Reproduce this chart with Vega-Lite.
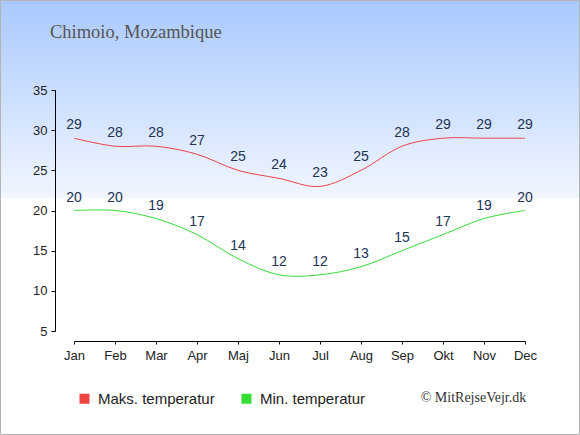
{
  "$schema": "https://vega.github.io/schema/vega-lite/v6.json",
  "width": 451,
  "height": 241,
  "autosize": "none",
  "padding": {"left": 74, "top": 90, "right": 55, "bottom": 104},
  "background": "white",
  "config": {
    "view": {"stroke": null},
    "axis": {"grid": false, "labelFlush": false, "domainColor": "#000", "tickColor": "#000", "labelColor": "#222", "labelFont": "Liberation Sans", "labelFontSize": 13, "title": null}
  },
  "data": {
    "values": [
      {"m": 1, "series": "Maks. temperatur", "t": 29},
      {"m": 2, "series": "Maks. temperatur", "t": 28},
      {"m": 3, "series": "Maks. temperatur", "t": 28},
      {"m": 4, "series": "Maks. temperatur", "t": 27},
      {"m": 5, "series": "Maks. temperatur", "t": 25},
      {"m": 6, "series": "Maks. temperatur", "t": 24},
      {"m": 7, "series": "Maks. temperatur", "t": 23},
      {"m": 8, "series": "Maks. temperatur", "t": 25},
      {"m": 9, "series": "Maks. temperatur", "t": 28},
      {"m": 10, "series": "Maks. temperatur", "t": 29},
      {"m": 11, "series": "Maks. temperatur", "t": 29},
      {"m": 12, "series": "Maks. temperatur", "t": 29},
      {"m": 1, "series": "Min. temperatur", "t": 20},
      {"m": 2, "series": "Min. temperatur", "t": 20},
      {"m": 3, "series": "Min. temperatur", "t": 19},
      {"m": 4, "series": "Min. temperatur", "t": 17},
      {"m": 5, "series": "Min. temperatur", "t": 14},
      {"m": 6, "series": "Min. temperatur", "t": 12},
      {"m": 7, "series": "Min. temperatur", "t": 12},
      {"m": 8, "series": "Min. temperatur", "t": 13},
      {"m": 9, "series": "Min. temperatur", "t": 15},
      {"m": 10, "series": "Min. temperatur", "t": 17},
      {"m": 11, "series": "Min. temperatur", "t": 19},
      {"m": 12, "series": "Min. temperatur", "t": 20}
    ]
  },
  "layer": [
    {
      "data": {"values": [{}]},
      "mark": {"type": "rect", "fill": {"gradient": "linear", "x1": 0, "y1": 0, "x2": 0, "y2": 1, "stops": [{"offset": 0, "color": "#a9c9ff"}, {"offset": 1, "color": "#f1f6ff"}]}},
      "encoding": {
        "x": {"datum": -0.805, "type": "quantitative", "scale": {"domain": [1, 12]}},
        "x2": {"datum": 13.341},
        "y": {"datum": 46.203, "type": "quantitative", "scale": {"domain": [5, 35]}},
        "y2": {"datum": 21.56}
      }
    },
    {
      "data": {"values": [{}]},
      "mark": {"type": "rect", "fill": null, "stroke": "#b4b4b4", "strokeWidth": 1},
      "encoding": {
        "x": {"datum": -0.793, "type": "quantitative", "scale": {"domain": [1, 12]}},
        "x2": {"datum": 13.329},
        "y": {"datum": 46.141, "type": "quantitative", "scale": {"domain": [5, 35]}},
        "y2": {"datum": -7.884}
      }
    },
    {
      "data": {"values": [{"label": "Chimoio, Mozambique"}]},
      "mark": {"type": "text", "align": "left", "baseline": "alphabetic", "font": "Liberation Serif", "fontSize": 18.5, "color": "#555"},
      "encoding": {
        "x": {"datum": 0.4146, "type": "quantitative", "scale": {"domain": [1, 12]}},
        "y": {"datum": 41.47, "type": "quantitative", "scale": {"domain": [5, 35]}},
        "text": {"field": "label"}
      }
    },
    {
      "mark": {"type": "line", "interpolate": "cardinal", "strokeWidth": 1},
      "encoding": {
        "x": {
          "field": "m", "type": "quantitative",
          "scale": {"domain": [1, 12], "nice": false},
          "axis": {"zindex": 2, "values": [1, 2, 3, 4, 5, 6, 7, 8, 9, 10, 11, 12], "offset": 10, "tickSize": 3, "labelPadding": 5,
            "labelExpr": "['Jan','Feb','Mar','Apr','Maj','Jun','Jul','Aug','Sep','Okt','Nov','Dec'][datum.value-1]"}
        },
        "y": {
          "field": "t", "type": "quantitative",
          "scale": {"domain": [5, 35], "nice": false, "zero": false},
          "axis": {"zindex": 2, "values": [5, 10, 15, 20, 25, 30, 35], "offset": 19, "tickSize": 4, "labelPadding": 4}
        },
        "color": {
          "field": "series", "type": "nominal",
          "scale": {"domain": ["Maks. temperatur", "Min. temperatur"], "range": ["#ee4444", "#33dd33"]},
          "legend": {
            "title": null, "orient": "none", "direction": "horizontal", "legendX": 3, "legendY": 301,
            "symbolType": "square", "symbolSize": 100, "symbolStrokeWidth": 0, "symbolOpacity": 1,
            "labelFont": "Liberation Sans", "labelFontSize": 15, "labelColor": "#222", "labelOffset": 6, "columnPadding": 24,
            "encode": {"symbols": {"update": {"fill": {"scale": "color", "field": "value"}}}}
          }
        }
      }
    },
    {
      "mark": {"type": "text", "dy": -13, "font": "Liberation Sans", "fontSize": 14, "color": "#223355"},
      "encoding": {
        "x": {"field": "m", "type": "quantitative", "scale": {"domain": [1, 12]}},
        "y": {"field": "t", "type": "quantitative", "scale": {"domain": [5, 35]}},
        "text": {"field": "t"}
      }
    },
    {
      "data": {"values": [{"label": "© MitRejseVejr.dk"}]},
      "mark": {"type": "text", "align": "right", "baseline": "middle", "font": "Liberation Serif", "fontSize": 14, "color": "#333"},
      "encoding": {
        "x": {"datum": 12.03, "type": "quantitative", "scale": {"domain": [1, 12]}},
        "y": {"datum": -3.28, "type": "quantitative", "scale": {"domain": [5, 35]}},
        "text": {"field": "label"}
      }
    }
  ]
}
